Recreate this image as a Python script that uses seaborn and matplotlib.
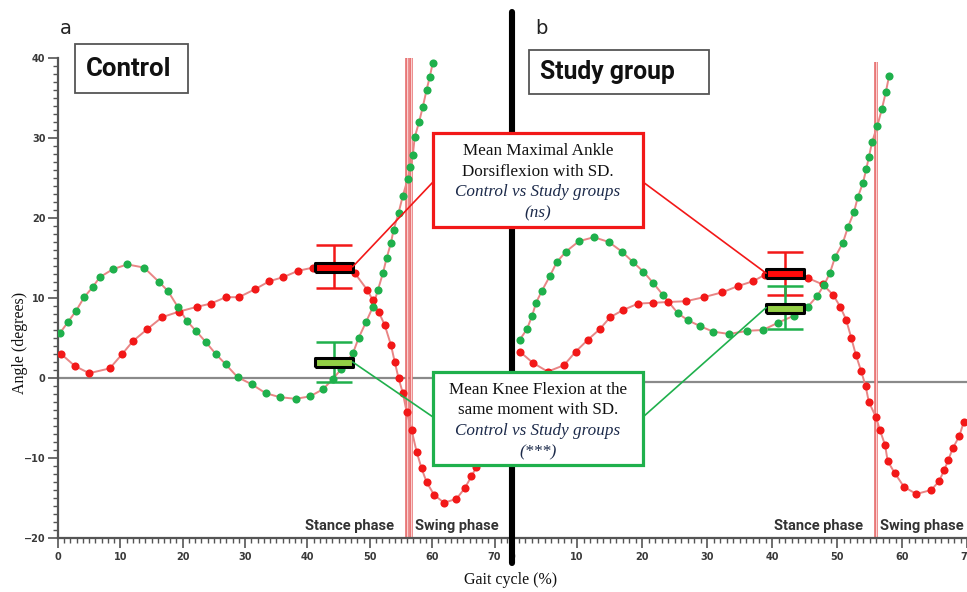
import numpy as np
import matplotlib
matplotlib.use("Agg")
import matplotlib.pyplot as plt
import seaborn as sns
from matplotlib.lines import Line2D
from matplotlib.patches import Rectangle, ConnectionPatch
from matplotlib.ticker import MultipleLocator

# ---- data ----
# control group (panel a)
ctrl_knee_x = [0.3, 1.6, 2.9, 4.2, 5.6, 6.7, 8.8, 11.1, 13.8, 16.2, 17.6, 19.2, 20.7, 22.1, 23.7,
               25.3, 26.9, 28.8, 31.1, 33.3, 35.6, 38.1, 40.4, 42.5, 44.1, 45.4, 47.3, 48.2, 49.4,
               50.5, 51.3, 52.1, 52.7, 53.4, 53.8, 54.6, 55.3, 56.1, 56.5, 56.9, 57.2, 57.9, 58.5,
               59.1, 59.6, 60.1]
ctrl_knee_y = [5.6, 7.0, 8.4, 10.1, 11.4, 12.6, 13.6, 14.2, 13.8, 12.0, 10.9, 8.9, 7.1, 5.9, 4.5,
               3.0, 1.7, 0.1, -0.8, -1.9, -2.4, -2.6, -2.3, -1.4, -0.1, 1.1, 3.1, 5.0, 7.0,
               8.9, 11.0, 13.1, 15.0, 16.9, 18.5, 20.6, 22.8, 24.9, 26.4, 27.9, 30.1, 32.0, 33.9,
               36.0, 37.6, 39.4]
ctrl_ankle_x = [0.5, 2.7, 5.0, 8.3, 10.3, 12.0, 14.3, 16.7, 19.4, 22.3, 24.5, 26.9, 29.0, 31.6,
                33.9, 36.1, 38.5, 40.9, 43.0, 45.0, 47.6, 49.6, 50.5, 51.4, 52.4, 53.4, 54.0, 54.6,
                55.3, 55.9, 56.7, 57.5, 58.3, 59.1, 60.3, 61.9, 63.9, 65.2, 66.3, 67.1]
ctrl_ankle_y = [3.0, 1.5, 0.6, 1.2, 3.0, 4.6, 6.1, 7.6, 8.3, 8.9, 9.3, 10.1, 10.1, 11.1,
                12.1, 12.6, 13.4, 13.8, 14.0, 13.9, 13.1, 11.0, 9.7, 8.3, 6.6, 4.1, 2.0, 0.0,
                -1.9, -4.2, -6.5, -9.2, -11.3, -13.0, -14.6, -15.6, -15.1, -13.8, -12.3, -11.1]

# study group (panel b)
study_knee_x = [1.2, 2.3, 3.1, 3.7, 4.6, 5.8, 6.9, 8.3, 10.3, 12.6, 14.9, 16.9, 18.6, 20.2, 21.7,
                23.2, 25.5, 27.1, 28.9, 30.9, 33.4, 36.2, 38.6, 40.9, 43.4, 45.5, 46.9, 48.0, 48.9,
                49.7, 50.9, 51.7, 52.6, 53.2, 54.0, 54.5, 54.9, 55.4, 56.2, 56.9, 57.5, 58.0]
study_knee_y = [5.3, 6.6, 8.3, 9.9, 11.4, 13.2, 15.0, 16.3, 17.6, 18.1, 17.5, 16.3, 15.0, 13.8, 12.4,
                10.9, 8.6, 7.7, 7.0, 6.3, 6.0, 6.4, 6.5, 7.4, 8.3, 9.4, 10.7, 12.1, 13.6,
                15.6, 17.4, 19.4, 21.2, 23.1, 24.9, 26.6, 28.1, 30.0, 32.0, 34.1, 36.2, 38.2]
study_ankle_x = [1.2, 3.2, 5.5, 8.0, 9.8, 11.7, 13.5, 15.1, 17.1, 19.4, 21.7, 24.0, 26.8, 29.5,
                 32.3, 34.8, 37.1, 38.9, 41.0, 43.5, 45.5, 47.8, 49.4, 50.5, 51.4, 52.2, 52.9, 53.7,
                 54.4, 54.9, 56.0, 56.6, 57.4, 57.8, 58.9, 60.3, 62.2, 64.5, 65.7, 66.5, 67.1, 67.8,
                 68.8, 69.5]
study_ankle_y = [3.8, 2.4, 1.3, 2.1, 3.8, 5.3, 6.6, 8.1, 9.0, 9.8, 9.9, 10.0, 10.1, 10.6,
                 11.2, 12.0, 12.6, 13.4, 13.6, 13.6, 13.0, 12.2, 10.9, 9.4, 7.8, 5.5, 3.4, 1.4,
                 -0.5, -2.5, -4.4, -6.0, -7.9, -9.9, -11.4, -13.1, -14.0, -13.5, -12.4, -11.0, -9.8, -8.3,
                 -6.8, -5.0]

# mean +/- SD at maximal ankle dorsiflexion
ctrl_mean_x, study_mean_x = 44.2, 42.0
ctrl_ankle_mean, ctrl_ankle_sd = 13.9, 2.7
ctrl_knee_mean, ctrl_knee_sd = 2.0, 2.45
study_ankle_mean, study_ankle_sd = 13.6, 2.7
study_knee_mean, study_knee_sd = 9.3, 2.7

ctrl_toe_off = [56.0, 56.6]
study_toe_off = [56.0]

# ---- style ----
W, H = 967, 592
RED = "#f21818"
GREEN = "#1fb04c"
PALE = "#e98585"
GRID = "#555555"
NAVY = "#1c2a4a"

sns.set_style("white")
plt.rcParams["font.family"] = ["DejaVu Sans"]

fig = plt.figure(figsize=(W / 100, H / 100), dpi=100)


def fx(px):
    return px / W


def fy(py):
    return 1 - py / H


ax_a = fig.add_axes([fx(58), fy(538), fx(512) - fx(58), fy(58) - fy(538)])
ax_b = fig.add_axes([fx(512), fy(538), fx(967) - fx(512), fy(62) - fy(538)])

rect_marker = [(-1, -0.24), (1, -0.24), (1, 0.24), (-1, 0.24), (-1, -0.24)]


def draw_panel(ax, kx, ky, axx, ayy, mean_x, a_mean, a_sd, k_mean, k_sd, toe_off):
    ax.axhline(0, color="#8a8a8a", lw=1.6, zorder=1)
    for t in toe_off:
        ax.axvline(t, color="#e66a6a", lw=2.6, zorder=1.5)
        ax.axvline(t, color="#fbd0d0", lw=0.9, zorder=1.6)
    sns.lineplot(x=axx, y=ayy, ax=ax, color=PALE, lw=1.4, estimator=None, sort=False, zorder=2)
    sns.lineplot(x=kx, y=ky, ax=ax, color=PALE, lw=1.4, estimator=None, sort=False, zorder=2)
    sns.scatterplot(x=axx, y=ayy, ax=ax, color=RED, s=34, linewidth=0, zorder=3)
    sns.scatterplot(x=kx, y=ky, ax=ax, color=GREEN, s=34, linewidth=0, zorder=3)
    ax.errorbar([mean_x], [a_mean], yerr=[a_sd], fmt="none", ecolor=RED, elinewidth=1.8,
                capsize=13, capthick=1.8, zorder=4)
    ax.errorbar([mean_x], [k_mean], yerr=[k_sd], fmt="none", ecolor=GREEN, elinewidth=1.8,
                capsize=13, capthick=1.8, zorder=4)
    ax.plot([mean_x], [a_mean], marker=rect_marker, ms=27, mfc="#ff0a0a", mec="black", mew=2.2,
            ls="none", zorder=5)
    ax.plot([mean_x], [k_mean], marker=rect_marker, ms=27, mfc="#93cf45", mec="black", mew=2.2,
            ls="none", zorder=5)


draw_panel(ax_a, ctrl_knee_x, ctrl_knee_y, ctrl_ankle_x, ctrl_ankle_y, ctrl_mean_x,
           ctrl_ankle_mean, ctrl_ankle_sd, ctrl_knee_mean, ctrl_knee_sd, ctrl_toe_off)
draw_panel(ax_b, study_knee_x, study_knee_y, study_ankle_x, study_ankle_y, study_mean_x,
           study_ankle_mean, study_ankle_sd, study_knee_mean, study_knee_sd, study_toe_off)

ax_a.set_xlim(0, 72.8)
ax_a.set_ylim(-20, 40)
ax_b.set_xlim(0, 70)
ax_b.set_ylim(-19.5, 40)

for ax in (ax_a, ax_b):
    ax.set_facecolor("none")
    ax.set_xlabel("")
    ax.set_ylabel("")
    for s in ("top", "right"):
        ax.spines[s].set_visible(False)
    ax.spines["bottom"].set_color(GRID)
    ax.spines["bottom"].set_linewidth(1.6)
    ax.xaxis.set_major_locator(MultipleLocator(10))
    ax.xaxis.set_minor_locator(MultipleLocator(1))
    ax.tick_params(axis="x", which="major", direction="out", length=7, width=1.2, color=GRID,
                   labelsize=7, labelcolor="#3a3a3a", bottom=True, pad=3)
    ax.tick_params(axis="x", which="minor", direction="out", length=3.5, width=1, color=GRID,
                   bottom=True)
    for lab in ax.get_xticklabels():
        lab.set_fontweight("bold")

ax_a.spines["left"].set_color(GRID)
ax_a.spines["left"].set_linewidth(1.6)
ax_a.yaxis.set_major_locator(MultipleLocator(10))
ax_a.yaxis.set_minor_locator(MultipleLocator(1))
ax_a.tick_params(axis="y", which="major", direction="out", length=7, width=1.2, color=GRID,
                 labelsize=7, labelcolor="#3a3a3a", left=True, pad=2)
ax_a.tick_params(axis="y", which="minor", direction="out", length=3.5, width=1, color=GRID, left=True)
for lab in ax_a.get_yticklabels():
    lab.set_fontweight("bold")
ax_b.spines["left"].set_visible(False)
ax_b.set_yticks([])

# phase labels
for ax, stance_end, swing_start in ((ax_a, 394, 415), (ax_b, 863, 880)):
    fig.text(fx(stance_end), fy(526), "Stance phase", ha="right", va="center", fontsize=10.5,
             fontweight="bold", color="#333333", family="Roboto")
    fig.text(fx(swing_start), fy(526), "Swing phase", ha="left", va="center", fontsize=10.5,
             fontweight="bold", color="#333333", family="Roboto")

# axis titles
fig.text(fx(20), fy(343), "Angle (degrees)", rotation=90, ha="center", va="center",
         fontsize=11.5, family="Liberation Serif", color="#111111")
fig.text(fx(511), fy(580), "Gait cycle (%)", ha="center", va="center",
         fontsize=11.5, family="Liberation Serif", color="#111111")

# separator
fig.add_artist(Line2D([fx(512), fx(512)], [fy(12), fy(563)], color="black", lw=4.4,
                      transform=fig.transFigure, zorder=3))

# panel letters and group boxes
fig.text(fx(66), fy(29), "a", ha="center", va="center", fontsize=14, color="#222222")
fig.text(fx(541), fy(28), "b", ha="center", va="center", fontsize=14, color="#222222")
for x0, y0, x1, y1, label, tx, fs in ((75, 44, 188, 93, "Control", 86, 18.5),
                                      (529, 50, 709, 94, "Study group", 540, 17.8)):
    fig.add_artist(Rectangle((fx(x0), fy(y1)), fx(x1) - fx(x0), fy(y0) - fy(y1), transform=fig.transFigure,
                             facecolor="white", edgecolor="#555555", lw=1.3, zorder=6))
    fig.text(fx(tx), fy((y0 + y1) / 2), label, ha="left", va="center", fontsize=fs,
             fontweight="bold", family="Roboto", color="#111111", zorder=7)

# annotation boxes
boxes = [
    (133, 227, RED, [("Mean Maximal Ankle", 151, "normal"), ("Dorsiflexion with SD.", 172, "normal"),
                     ("Control vs Study groups", 192, "italic"), ("(ns)", 213, "italic")]),
    (372, 465, GREEN, [("Mean Knee Flexion at the", 390, "normal"), ("same moment with SD.", 410, "normal"),
                       ("Control vs Study groups", 431, "italic"), ("(***)", 452, "italic")]),
]
for y0, y1, col, lines in boxes:
    fig.add_artist(Rectangle((fx(433), fy(y1)), fx(643) - fx(433), fy(y0) - fy(y1), transform=fig.transFigure,
                             facecolor="white", edgecolor=col, lw=2.3, zorder=6))
    for txt, ty, style in lines:
        fig.text(fx(538), fy(ty), txt, ha="center", va="center", fontsize=12.3, style=style,
                 family="Liberation Serif", color=NAVY if style == "italic" else "#111111", zorder=7)

# connectors from boxes to the mean markers
half_a = 3.05
half_b = 2.9
conns = [
    (ax_a, (ctrl_mean_x + half_a, ctrl_ankle_mean), (433, 182), RED),
    (ax_b, (study_mean_x - half_b, study_ankle_mean), (643, 182), RED),
    (ax_a, (ctrl_mean_x + half_a, ctrl_knee_mean), (433, 417), GREEN),
    (ax_b, (study_mean_x - half_b, study_knee_mean), (643, 417), GREEN),
]
for ax, xy, pt, col in conns:
    cp = ConnectionPatch(xyA=xy, coordsA=ax.transData, xyB=(fx(pt[0]), fy(pt[1])),
                         coordsB=fig.transFigure, color=col, lw=1.2, zorder=4)
    fig.add_artist(cp)

fig.savefig("out.png", dpi=100)
